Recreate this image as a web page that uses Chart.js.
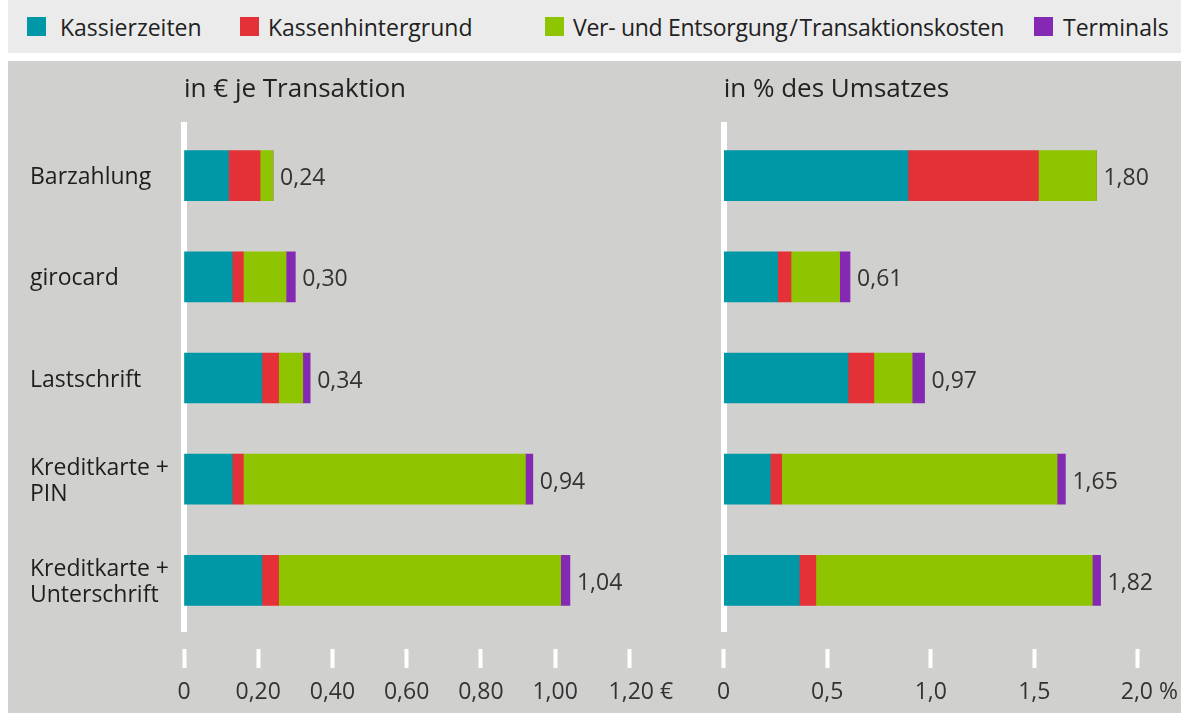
<!DOCTYPE html>
<html>
<head>
<meta charset="utf-8">
<script src="https://cdn.jsdelivr.net/npm/chart.js@4.4.1/dist/chart.umd.min.js"></script>
<style>
  html, body { margin: 0; padding: 0; background: #ffffff; }
  body { width: 1189px; height: 713px; position: relative; overflow: hidden; font-family: "Open Sans", sans-serif; }
  #legendBand { position: absolute; left: 8px; top: 0; width: 1173px; height: 53px; background: #ebebeb; }
  #plotBand { position: absolute; left: 8px; top: 61px; width: 1173px; height: 652px; background: #d0d0ce; }
  .lg-sq { position: absolute; top: 17px; width: 19px; height: 19px; }
  .lg-tx { position: absolute; top: 1px; line-height: 53px; font-size: 23px; color: #222; white-space: nowrap; }
  .box { position: absolute; top: 61px; height: 652px; }
</style>
</head>
<body>
<div id="legendBand"></div>
<div id="plotBand"></div>
<div id="legend"></div>
<div class="box" style="left:0px;width:700px;"><canvas id="c1"></canvas></div>
<div class="box" style="left:690px;width:499px;"><canvas id="c2"></canvas></div>
<script>
// ---------- data ----------
const categories = [['Barzahlung'], ['girocard'], ['Lastschrift'], ['Kreditkarte +', 'PIN'], ['Kreditkarte +', 'Unterschrift']];
const seriesNames = ['Kassierzeiten', 'Kassenhintergrund', 'Ver- und Entsorgung\u200a/\u200aTransaktionskosten', 'Terminals'];
const seriesColors = ['#0097a6', '#e43037', '#8fc400', '#8529b5'];

const kassierEuro     = [0.12, 0.13, 0.21, 0.13, 0.21];
const hintergrundEuro = [0.085, 0.03, 0.045, 0.03, 0.045];
const entsorgungEuro  = [0.035, 0.115, 0.065, 0.76, 0.76];
const terminalsEuro   = [0, 0.025, 0.02, 0.02, 0.025];
const totalLabelsEuro = ['0,24', '0,30', '0,34', '0,94', '1,04'];

const kassierPct      = [0.89, 0.26, 0.60, 0.225, 0.365];
const hintergrundPct  = [0.63, 0.065, 0.125, 0.055, 0.08];
const entsorgungPct   = [0.28, 0.235, 0.185, 1.33, 1.335];
const terminalsPct    = [0, 0.05, 0.06, 0.04, 0.04];
const totalLabelsPct  = ['1,80', '0,61', '0,97', '1,65', '1,82'];

const tickLabelsEuro = ['0', '0,20', '0,40', '0,60', '0,80', '1,00', '\u2002\u20021,20 \u20ac'];
const tickLabelsPct  = ['0', '0,5', '1,0', '1,5', '\u2002\u20022,0 %'];

const titleEuro = 'in \u20ac je Transaktion';
const titlePct  = 'in % des Umsatzes';

// ---------- legend (HTML) ----------
const legendPos = [[27, 60], [240, 268], [545, 573], [1034, 1063]];
const legendEl = document.getElementById('legend');
seriesNames.forEach((n, i) => {
  const sq = document.createElement('div');
  sq.className = 'lg-sq'; sq.style.left = legendPos[i][0] + 'px'; sq.style.background = seriesColors[i];
  const tx = document.createElement('div');
  tx.className = 'lg-tx'; tx.style.left = legendPos[i][1] + 'px'; tx.textContent = n;
  if (i === 2) tx.style.letterSpacing = '-0.3px';
  legendEl.appendChild(sq); legendEl.appendChild(tx);
});

// ---------- chart helpers ----------
const FONT = '"Open Sans", sans-serif';

function makeDatasets(arrs) {
  return arrs.map((d, i) => ({
    label: seriesNames[i],
    data: d,
    backgroundColor: seriesColors[i],
    borderWidth: 0,
    barThickness: 50
  }));
}

function decoPlugin(title, totals) {
  return {
    id: 'deco',
    afterDatasetsDraw(chart) {
      const ctx = chart.ctx;
      const meta = chart.getDatasetMeta(chart.data.datasets.length - 1);
      ctx.save();
      ctx.font = '23px ' + FONT;
      ctx.fillStyle = '#333';
      ctx.textAlign = 'left';
      ctx.textBaseline = 'middle';
      meta.data.forEach((el, i) => { ctx.fillText(totals[i], el.x + 7, el.y + 3); });
      ctx.restore();
    },
    afterDraw(chart) {
      const ctx = chart.ctx;
      ctx.save();
      ctx.font = '26px ' + FONT;
      ctx.fillStyle = '#222';
      ctx.textAlign = 'left';
      ctx.textBaseline = 'middle';
      ctx.fillText(title, chart.chartArea.left, 29);
      ctx.restore();
    }
  };
}

function makeChart(id, arrs, opts) {
  return new Chart(document.getElementById(id), {
    type: 'bar',
    data: { labels: categories, datasets: makeDatasets(arrs) },
    options: {
      indexAxis: 'y',
      responsive: true,
      maintainAspectRatio: false,
      animation: false,
      devicePixelRatio: 1,
      layout: { padding: opts.padding },
      plugins: { legend: { display: false }, tooltip: { enabled: false }, title: { display: false } },
      scales: {
        x: {
          stacked: true,
          min: 0, max: opts.max,
          afterFit(s) { s.height = 82; },
          afterBuildTicks(s) {
            s.ticks = opts.tickLabels.map((_, i) => ({ value: +(i * opts.step).toFixed(4) }));
          },
          ticks: {
            padding: 11,
            color: '#333',
            font: { family: FONT, size: 23 },
            maxRotation: 0,
            autoSkip: false,
            callback: (v, i) => opts.tickLabels[i]
          },
          grid: {
            display: true,
            drawOnChartArea: false,
            drawTicks: true,
            tickLength: 37,
            tickColor: '#ffffff',
            tickWidth: 4,
            tickBorderDash: [0, 18, 19, 200]
          },
          border: { display: false }
        },
        y: {
          stacked: true,
          z: 1,
          afterFit(s) { s.width = opts.yWidth; },
          grid: { display: false },
          border: { display: true, color: '#ffffff', width: 6 },
          ticks: {
            display: opts.showLabels,
            crossAlign: 'far',
            labelOffset: 2,
            color: '#1e1e1e',
            font: { family: FONT, size: 23, lineHeight: 1.15 }
          }
        }
      }
    },
    plugins: [decoPlugin(opts.title, opts.totals)]
  });
}

makeChart('c1', [kassierEuro, hintergrundEuro, entsorgungEuro, terminalsEuro], {
  padding: { top: 64, left: 30, right: 70.7, bottom: 0 },
  max: 1.2, step: 0.2, tickLabels: tickLabelsEuro, yWidth: 154, showLabels: true,
  title: titleEuro, totals: totalLabelsEuro
});

makeChart('c2', [kassierPct, hintergrundPct, entsorgungPct, terminalsPct], {
  padding: { top: 64, left: 33.7, right: 50.3, bottom: 0 },
  max: 2.0, step: 0.5, tickLabels: tickLabelsPct, yWidth: 0, showLabels: false,
  title: titlePct, totals: totalLabelsPct
});
</script>
</body>
</html>
